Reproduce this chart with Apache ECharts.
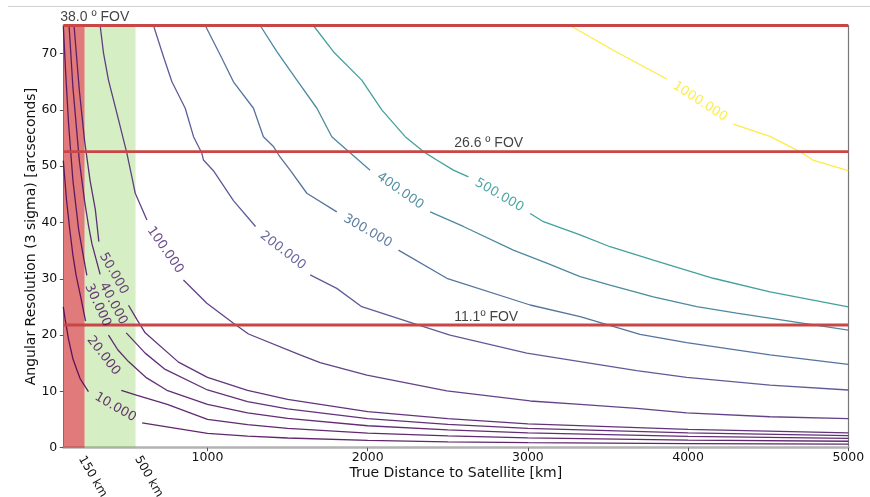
<!DOCTYPE html>
<html>
<head>
<meta charset="utf-8">
<script src="https://cdn.jsdelivr.net/npm/echarts@6/dist/echarts.min.js"></script>
<style>
  html, body { margin: 0; padding: 0; background: #ffffff; }
  #chart { width: 870px; height: 497px; }
</style>
</head>
<body>
<div id="chart"></div>
<script>
// Contour levels of the resolvable size
const levels = [10, 20, 30, 40, 50, 100, 200, 300, 400, 500, 1000];

// Contour paths as [distance km, resolution arcsec]; null = gap for the inline label
const c10 = [[100, 25.0], [112, 22.7], [133, 19.2], [160, 15.8], [185, 13.8], [206, 12.2], [257, 9.95], null,
  [592, 4.4], [1000, 2.56], [1250, 2.05], [1500, 1.72], [2000, 1.3], [2500, 1.05], [3000, 0.9], [4000, 0.72], [5000, 0.62]];
const c20 = [[100, 51], [120, 44], [140, 38.8], [160, 34.2], [180, 30.6], [207, 27], [239, 22.5], null,
  [462, 10.2], [561, 9.3], [749, 7.7], [1000, 5.05], [1250, 4.1], [1500, 3.45], [2000, 2.6], [2500, 2.1], [3000, 1.75], [4000, 1.35], [5000, 1.15]];
const c30 = [[100, 75], [115, 66.5], [133, 57.5], [160, 47.5], [196, 38.7], [226, 33.9], [247, 30.6], null,
  [382, 20.0], [440, 17.4], [507, 15.3], [620, 12.4], [747, 10.2], [1000, 7.7], [1250, 6.2], [1500, 5.2], [2000, 3.9], [2500, 3.15], [3000, 2.65], [4000, 2.0], [5000, 1.65]];
const c40 = [[136, 75], [160, 64], [200, 51], [233, 43.8], [257, 39.5], [279, 36.2], [330, 30.8], null,
  [493, 20.4], [611, 16.8], [736, 13.9], [1000, 10.25], [1250, 8.2], [1500, 6.9], [2000, 5.15], [2500, 4.15], [3000, 3.45], [4000, 2.65], [5000, 2.15]];
const c50 = [[167, 75], [200, 63.5], [233, 54.5], [267, 47.5], [300, 42.3], [322, 36.6], null,
  [507, 25.3], [559, 22.8], [611, 20.4], [819, 15.2], [1000, 12.5], [1250, 10.2], [1500, 8.6], [2000, 6.4], [2500, 5.15], [3000, 4.25], [4000, 3.25], [5000, 2.65]];
const c100 = [[330, 75], [351, 70.1], [382, 65.3], [424, 60.6], [466, 55.85], [497, 52.3], [528, 48.1], [549, 45.2], [622, 40.45], null,
  [850, 29.8], [996, 25.65], [1162, 22.1], [1256, 20.2], [1578, 16.5], [1703, 15.1], [1995, 12.9], [2494, 10.1], [3014, 8.3], [3326, 7.7], [3679, 7.0], [3991, 6.2], [4511, 5.5], [5000, 5.15]];
const c200 = [[663, 75], [725, 69.5], [778, 65.0], [861, 60.3], [913, 55.25], [965, 52.3], [975, 51.1], [1037, 49.2], [1162, 43.9], [1300, 39.3], null,
  [1641, 30.7], [1807, 28.3], [1963, 25.05], [2285, 22.1], [2514, 20.0], [2993, 16.8], [3326, 15.3], [3679, 13.7], [3991, 12.5], [4511, 11.1], [5000, 10.25]];
const c300 = [[986, 75], [1079, 69.8], [1162, 65.0], [1287, 60.3], [1349, 55.25], [1412, 53.5], [1454, 51.6], [1516, 49.3], [1620, 45.2], [1807, 41.9], null,
  [2192, 35.1], [2494, 30.1], [3014, 25.35], [3326, 23.3], [3700, 20.15], [3991, 18.65], [4511, 16.5], [5000, 14.8]];
const c400 = [[1329, 75], [1433, 70.35], [1558, 65.3], [1683, 60.3], [1776, 55.25], [1870, 52.9], [1942, 51.1], [2015, 49.3], null,
  [2390, 41.9], [2597, 39.3], [2909, 35.1], [3118, 32.8], [3326, 30.4], [3513, 28.9], [3783, 26.8], [4054, 25.05], [4303, 23.9], [5000, 20.9]];
const c500 = [[1661, 75], [1786, 70.35], [1963, 65.3], [2088, 60.0], [2234, 55.25], [2348, 52.6], [2431, 51.1], [2535, 49.3], [2629, 48.1], null,
  [3014, 41.6], [3097, 40.15], [3326, 37.8], [3513, 35.7], [3783, 33.3], [4157, 30.1], [4511, 27.7], [5000, 25.0]];
const c1000 = [[3263, 75], [3533, 70.6], [3867, 65.5], null,
  [4282, 57.5], [4511, 55.3], [4698, 52.6], [4779, 51.1], [5000, 49.2]];

const contours = [c10, c20, c30, c40, c50, c100, c200, c300, c400, c500, c1000];

// Field-of-view limits (arcsec) and their captions
const fovValues = [75, 52.6, 21.8];
const fovLabels = ['38.0 º FOV', '26.6 º FOV', '11.1º FOV'];

// Shaded distance bands (km)
const bandEdges = [100, 233, 551];

// Axis ticks
const xTicks = [1000, 2000, 3000, 4000, 5000];
const xMarkTicks = [150, 500];
const yTicks = [0, 10, 20, 30, 40, 50, 60, 70];

// ---- styling ----
const levelColors = ['#440154', '#450457', '#46085c', '#470d60', '#471164', '#482173',
  '#424086', '#365c8d', '#2b758e', '#21918c', '#fde725'];
const labelAngles = [-30, -52, -65, -62, -60, -55, -38, -30, -35, -30, -33];
const FONT = 'DejaVu Sans';
const FOV_FONT = 'Liberation Sans';
const X_MIN = 100, X_MAX = 5000, Y_MIN = 0, Y_MAX = 75;

const series = [];

contours.forEach((pts, i) => {
  const segs = [];
  let seg = [];
  pts.forEach(p => {
    if (p === null) { segs.push(seg); seg = []; } else { seg.push(p); }
  });
  segs.push(seg);
  segs.forEach(s => {
    series.push({
      type: 'line', data: s, symbol: 'none', showSymbol: false, silent: true,
      lineStyle: { color: levelColors[i], width: 1.3, opacity: 0.85 }, z: 2
    });
  });
  // inline label centred in the gap
  const g = pts.indexOf(null);
  const a = pts[g - 1], b = pts[g + 1];
  series.push({
    type: 'scatter', silent: true, symbolSize: 0, z: 4,
    data: [[(a[0] + b[0]) / 2, (a[1] + b[1]) / 2]],
    label: {
      show: true, position: 'inside', rotate: labelAngles[i],
      formatter: levels[i].toFixed(3), color: levelColors[i],
      fontSize: 13, fontFamily: FONT
    }
  });
});

// FOV horizontal lines
fovValues.forEach(v => {
  series.push({
    type: 'line', symbol: 'none', silent: true, z: 3,
    data: [[X_MIN, v], [X_MAX, v]],
    lineStyle: { color: '#c84646', width: 2.8 }
  });
});

// FOV captions
const fovX = [X_MIN, 2540, 2540];
series.push({
  type: 'scatter', silent: true, symbolSize: 0, z: 6,
  data: fovValues.map((v, k) => [fovX[k], v]),
  label: {
    show: true, position: 'top', align: 'left', distance: 1,
    formatter: p => fovLabels[p.dataIndex],
    color: '#111', fontSize: 14, fontFamily: FOV_FONT
  },
  labelLayout: p => (p.dataIndex === 0 ? { dx: -3 } : {})
});

// Shaded distance bands drawn over the contours
series.push({
  type: 'line', symbol: 'none', silent: true, z: 10,
  data: [[X_MIN, Y_MIN]], lineStyle: { width: 0 },
  markArea: {
    silent: true,
    data: [
      [{ xAxis: bandEdges[0], yAxis: Y_MIN, itemStyle: { color: 'rgba(205,35,35,0.6)' } }, { xAxis: bandEdges[1], yAxis: Y_MAX }],
      [{ xAxis: bandEdges[1], yAxis: Y_MIN, itemStyle: { color: 'rgba(120,200,60,0.3)' } }, { xAxis: bandEdges[2], yAxis: Y_MAX }]
    ]
  }
});

const chart = echarts.init(document.getElementById('chart'), null, { renderer: 'canvas', devicePixelRatio: 1 });

chart.setOption({
  animation: false,
  backgroundColor: '#ffffff',
  grid: { left: 63.3, right: 21.7, top: 25.5, bottom: 49.3, outerBoundsMode: 'none', containLabel: false },
  graphic: [{
    type: 'line', silent: true,
    shape: { x1: 8, y1: 6.5, x2: 870, y2: 6.5 },
    style: { stroke: '#d0d0d0', lineWidth: 1 }
  }],
  xAxis: [{
    type: 'value', min: X_MIN, max: X_MAX, position: 'bottom',
    name: 'True Distance to Satellite [km]', nameLocation: 'middle', nameGap: 19, nameMoveOverlap: false,
    nameTextStyle: { fontSize: 14, fontFamily: FONT, color: '#111' },
    axisLine: { show: true, lineStyle: { color: '#b3b3b3', width: 2.5 } },
    axisTick: { show: true, customValues: xTicks, length: 3.5, lineStyle: { color: '#555' } },
    axisLabel: { customValues: xTicks, margin: 4, formatter: v => String(v), fontSize: 12.5, fontFamily: FONT, color: '#111' },
    splitLine: { show: false }
  }, {
    type: 'value', min: X_MIN, max: X_MAX, position: 'bottom',
    axisLine: { show: false }, axisTick: { show: false }, splitLine: { show: false },
    axisLabel: {
      customValues: xMarkTicks, rotate: -60, margin: -8, padding: [0, 0, 0, 20],
      formatter: v => v + ' km', fontSize: 12, fontFamily: FONT, color: '#111'
    }
  }, {
    type: 'value', min: X_MIN, max: X_MAX, position: 'top',
    axisLine: { show: true, lineStyle: { color: '#888', width: 1 } },
    axisTick: { show: false }, axisLabel: { show: false }, splitLine: { show: false }
  }],
  yAxis: [{
    type: 'value', min: Y_MIN, max: Y_MAX, position: 'left',
    name: 'Angular Resolution (3 sigma) [arcseconds]', nameLocation: 'middle', nameGap: 25, nameMoveOverlap: false,
    nameTextStyle: { fontSize: 14, fontFamily: FONT, color: '#111' },
    axisLine: { show: true, lineStyle: { color: '#888', width: 1 } },
    axisTick: { show: true, customValues: yTicks, length: 3.5, lineStyle: { color: '#555' } },
    axisLabel: { customValues: yTicks, margin: 6, fontSize: 12.5, fontFamily: FONT, color: '#111' },
    splitLine: { show: false }
  }, {
    type: 'value', min: Y_MIN, max: Y_MAX, position: 'right',
    axisLine: { show: true, lineStyle: { color: '#777', width: 1.2 } },
    axisTick: { show: false }, axisLabel: { show: false }, splitLine: { show: false }
  }],
  series: series
});
</script>
</body>
</html>
